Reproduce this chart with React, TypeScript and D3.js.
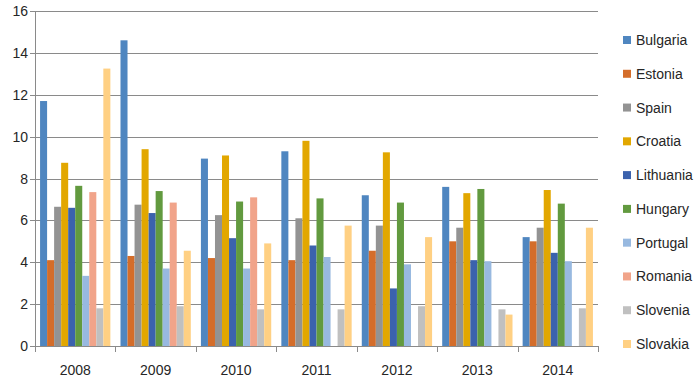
import { useRef, useEffect } from "react";
import * as d3 from "d3";

// ─── Data ──────────────────────────────────────────────────────────────────────

const years = ["2008", "2009", "2010", "2011", "2012", "2013", "2014"];

const countries = [
  "Bulgaria", "Estonia", "Spain", "Croatia", "Lithuania",
  "Hungary", "Portugal", "Romania", "Slovenia", "Slovakia",
];

const colors = [
  "#4f86c0", "#d46d2a", "#939393", "#e2a700", "#3b62ad",
  "#629a3f", "#98b9e0", "#f1a48a", "#c0c0c0", "#ffd083",
];

// one array per country, values by year
const bulgaria = [11.7, 14.6, 8.95, 9.3, 7.2, 7.6, 5.2];
const estonia = [4.1, 4.3, 4.2, 4.1, 4.55, 5.0, 5.0];
const spain = [6.65, 6.75, 6.25, 6.1, 5.75, 5.65, 5.65];
const croatia = [8.75, 9.4, 9.1, 9.8, 9.25, 7.3, 7.45];
const lithuania = [6.6, 6.35, 5.15, 4.8, 2.75, 4.1, 4.45];
const hungary = [7.65, 7.4, 6.9, 7.05, 6.85, 7.5, 6.8];
const portugal = [3.35, 3.7, 3.7, 4.25, 3.9, 4.05, 4.05];
const romania = [7.35, 6.85, 7.1, null, null, null, null];
const slovenia = [1.8, 1.9, 1.75, 1.75, 1.9, 1.75, 1.8];
const slovakia = [13.25, 4.55, 4.9, 5.75, 5.2, 1.5, 5.65];

const seriesValues: (number | null)[][] = [
  bulgaria, estonia, spain, croatia, lithuania,
  hungary, portugal, romania, slovenia, slovakia,
];

const yTicks = [0, 2, 4, 6, 8, 10, 12, 14, 16];

const WIDTH = 700;
const HEIGHT = 386;
const MARGIN = { top: 11, right: 102, bottom: 40, left: 35 };
const FONT = "'Liberation Sans', Arial, sans-serif";
const TEXT = "#262626";
const GRID = "#8a8a8a";

export default function App() {
  const svgRef = useRef<SVGSVGElement>(null);

  useEffect(() => {
    if (!svgRef.current) return;
    const innerW = WIDTH - MARGIN.left - MARGIN.right;
    const innerH = HEIGHT - MARGIN.top - MARGIN.bottom;

    const svg = d3.select(svgRef.current);
    svg.selectAll("*").remove();

    const g = svg
      .append("g")
      .attr("transform", `translate(${MARGIN.left},${MARGIN.top})`);

    // ── Scales ──────────────────────────────────────────────────────────────
    const x0 = d3.scaleBand().domain(years).range([0, innerW]).padding(0);
    const x1 = d3
      .scaleBand()
      .domain(countries)
      .range([0, x0.bandwidth()])
      .paddingInner(0)
      .paddingOuter(0.72);
    const y = d3.scaleLinear().domain([0, 16]).range([innerH, 0]);

    // ── Gridlines + y labels ────────────────────────────────────────────────
    g.append("g")
      .selectAll("line")
      .data(yTicks)
      .enter()
      .append("line")
      .attr("x1", -5)
      .attr("x2", innerW)
      .attr("y1", (d) => Math.round(y(d)) + 0.5)
      .attr("y2", (d) => Math.round(y(d)) + 0.5)
      .attr("stroke", GRID)
      .attr("stroke-width", 1);

    g.append("g")
      .selectAll("text")
      .data(yTicks)
      .enter()
      .append("text")
      .attr("x", -7)
      .attr("y", (d) => y(d))
      .attr("dy", "0.36em")
      .attr("text-anchor", "end")
      .attr("font-family", FONT)
      .attr("font-size", 14)
      .attr("fill", TEXT)
      .text((d) => String(d));

    // ── Bars ─────────────────────────────────────────────────────────────────
    const groups = g
      .append("g")
      .selectAll("g")
      .data(years)
      .enter()
      .append("g")
      .attr("transform", (d) => `translate(${x0(d)},0)`);

    groups
      .selectAll("rect")
      .data((_, yi) =>
        countries
          .map((c, ci) => ({ c, ci, v: seriesValues[ci][yi] }))
          .filter((d) => d.v != null)
      )
      .enter()
      .append("rect")
      .attr("x", (d) => x1(d.c) ?? 0)
      .attr("y", (d) => y(d.v as number))
      .attr("width", x1.bandwidth())
      .attr("height", (d) => innerH - y(d.v as number))
      .attr("fill", (d) => colors[d.ci]);

    // ── Axes lines ───────────────────────────────────────────────────────────
    g.append("line")
      .attr("x1", 0.5)
      .attr("x2", 0.5)
      .attr("y1", 0)
      .attr("y2", innerH)
      .attr("stroke", GRID);

    const bounds = [...years.map((d) => x0(d) ?? 0), innerW];
    g.append("g")
      .selectAll("line")
      .data(bounds)
      .enter()
      .append("line")
      .attr("x1", (d) => Math.round(d) + 0.5)
      .attr("x2", (d) => Math.round(d) + 0.5)
      .attr("y1", innerH)
      .attr("y2", innerH + 6)
      .attr("stroke", GRID);

    g.append("g")
      .selectAll("text")
      .data(years)
      .enter()
      .append("text")
      .attr("x", (d) => (x0(d) ?? 0) + x0.bandwidth() / 2)
      .attr("y", innerH + 24)
      .attr("dy", "0.36em")
      .attr("text-anchor", "middle")
      .attr("font-family", FONT)
      .attr("font-size", 14)
      .attr("fill", TEXT)
      .text((d) => d);

    // ── Legend ──────────────────────────────────────────────────────────────
    const legendY = d3
      .scalePoint()
      .domain(countries)
      .range([40, 344]);

    const legend = svg
      .append("g")
      .selectAll("g")
      .data(countries)
      .enter()
      .append("g")
      .attr("transform", (d) => `translate(623,${legendY(d)})`);

    legend
      .append("rect")
      .attr("x", 0)
      .attr("y", -4)
      .attr("width", 8)
      .attr("height", 8)
      .attr("fill", (_, i) => colors[i]);

    legend
      .append("text")
      .attr("x", 13)
      .attr("y", 0)
      .attr("dy", "0.36em")
      .attr("font-family", FONT)
      .attr("font-size", 14)
      .attr("fill", TEXT)
      .text((d) => d);
  }, []);

  return (
    <svg
      ref={svgRef}
      width={WIDTH}
      height={HEIGHT}
      style={{ position: "absolute", left: 0, top: 0, background: "#fff" }}
    />
  );
}
